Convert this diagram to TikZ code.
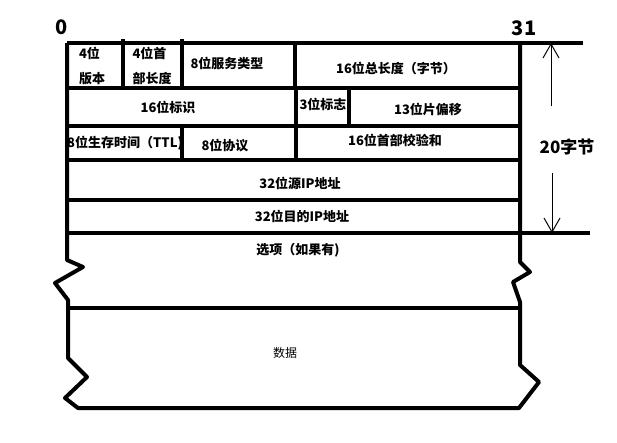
\documentclass[tikz,border=0pt]{standalone}
\usepackage{fontspec}
\setmainfont{Noto Sans CJK SC}
\usetikzlibrary{arrows.meta}

\begin{document}
\begin{tikzpicture}[
  x=1pt, y=-1pt,
  frame/.style={line width=4pt, line join=round},
  fld/.style={font=\bfseries\fontsize{13}{25}\selectfont, inner sep=0pt, align=left},
  big/.style={font=\bfseries\fontsize{20}{22}\selectfont, inner sep=0pt},
  ptr/.style={line width=1pt, -{Straight Barb[length=14pt,width=16pt]}}
]
\useasboundingbox (0,0) rectangle (617,442);

% outline with the broken sides
\draw[frame] (67,43) -- (67,260) -- (83,267) -- (55,283) -- (68,300) -- (68,358)
  -- (87,377) -- (65,398) -- (78,408) -- (519,408) -- (539,382) -- (520,365)
  -- (520,302) -- (513,282) -- (530,272) -- (520,262) -- (520,43);
\draw[frame] (67,43) -- (583,43);
\draw[frame] (67,233) -- (590,233);
\foreach \y in {88,126,160,200,308}
  \draw[frame] (67,\y) -- (520,\y);

% field borders
\draw[frame] (123,39) -- (123,88);
\draw[frame] (182,39) -- (182,88);
\draw[frame] (295,43) -- (295,88);
\draw[frame] (296,88) -- (296,126);
\draw[frame] (349,88) -- (349,126);
\draw[frame] (182,126) -- (182,160);
\draw[frame] (296,126) -- (296,160);

% bit numbers
\node[big] (b0) at (62,27) {0};
\node[big] (b31) at (524,28) {31};

% fields
\node[fld] (ver) at (92,66) {4位\\版本};
\node[fld] (ihl) at (152,66) {4位首\\部长度};
\node[fld] (tos) at (227,63) {8位服务类型};
\node[fld] (tlen) at (396,68) {16位总长度（字节）};
\node[fld] (ident) at (168,107) {16位标识};
\node[fld] (flags) at (323,104) {3位标志};
\node[fld] (frag) at (428,109) {13位片偏移};
\node[fld] (ttl) at (125,143) {8位生存时间（TTL)};
\node[fld] (proto) at (225,146) {8位协议};
\node[fld] (csum) at (395,140) {16位首部校验和};
\node[fld] (src) at (300,183) {32位源IP地址};
\node[fld] (dst) at (302,216) {32位目的IP地址};
\node[fld] (opt) at (298,250) {选项（如果有)};
\node[font=\fontsize{12}{14}\selectfont, inner sep=0pt] (data) at (285,353) {数据};

% header length
\node[font=\bfseries\fontsize{17}{19}\selectfont, inner sep=0pt] (hlen) at (567,147) {20字节};
\coordinate (up0) at (551,106);
\coordinate (up1) at (551,43);
\coordinate (dn0) at (552,173);
\coordinate (dn1) at (552,233);
\draw[ptr] (up0) -- (up1);
\draw[ptr] (dn0) -- (dn1);
\end{tikzpicture}
\end{document}
